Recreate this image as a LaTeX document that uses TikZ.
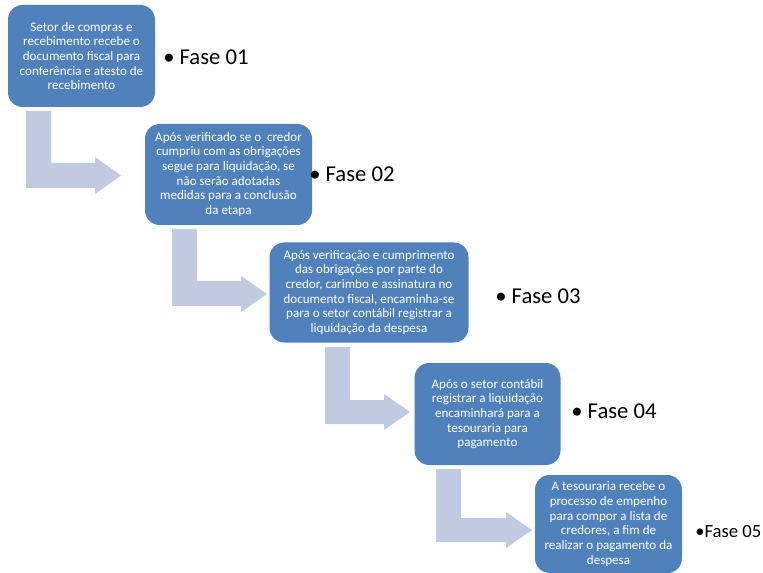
\documentclass[tikz,border=0pt]{standalone}
\usepackage{fontspec}
\setmainfont{Carlito}
\definecolor{caixa}{RGB}{79,129,189}
\definecolor{seta}{RGB}{192,203,226}
\begin{document}
\begin{tikzpicture}[x=0.75pt,y=-0.75pt,
  caixa/.style={fill=caixa,rounded corners=11pt,text=white,align=center,inner sep=0pt,
    font=\fontsize{9.8}{11}\selectfont},
  fase/.style={anchor=west,inner sep=0pt,font=\fontsize{17}{20}\selectfont}]
\useasboundingbox (0,0) rectangle (763,573);
% setas
\fill[seta] (26,111) -- (51,111) -- (51,163) -- (95,163) -- (95,157) -- (121,175.5) -- (95,194) -- (95,188) -- (26,188) -- cycle;
\fill[seta] (172,229) -- (197,229) -- (197,281) -- (241,281) -- (241,276) -- (267,294) -- (241,312) -- (241,306) -- (172,306) -- cycle;
\fill[seta] (325,347) -- (350,347) -- (350,400) -- (384,400) -- (384,394) -- (410,412) -- (384,430) -- (384,424) -- (325,424) -- cycle;
\fill[seta] (436,469) -- (461,469) -- (461,518) -- (506,518) -- (506,512) -- (532,530) -- (506,548) -- (506,542) -- (436,542) -- cycle;
% caixas
\node[caixa,minimum width=110.25pt,minimum height=76.5pt] (f1) at (81.5,56) {Setor de compras e\\recebimento recebe o\\documento fiscal para\\conferência e atesto de\\recebimento};
\node[caixa,minimum width=125.25pt,minimum height=75.75pt] (f2) at (228.5,174.5) {Após verificado se o\ \ credor\\cumpriu com as obrigações\\segue para liquidação, se\\não serão adotadas\\medidas para a conclusão\\da etapa};
\node[caixa,minimum width=149.25pt,minimum height=75pt] (f3) at (369,292.5) {Após verificação e cumprimento\\das obrigações por parte do\\credor, carimbo e assinatura no\\documento fiscal, encaminha-se\\para o setor contábil registrar a\\liquidação da despesa};
\node[caixa,minimum width=109.5pt,minimum height=76.5pt] (f4) at (487.5,414) {Após o setor contábil\\registrar a liquidação\\encaminhará para a\\tesouraria para\\pagamento};
\node[caixa,minimum width=110.25pt,minimum height=73.5pt] (f5) at (608.5,524) {A tesouraria recebe o\\processo de empenho\\para compor a lista de\\credores, a fim de\\realizar o pagamento da\\despesa};
% fases
\node[fase] (l1) at (163,57) {• Fase 01};
\node[fase] (l2) at (309,174) {• Fase 02};
\node[fase] (l3) at (495,296) {• Fase 03};
\node[fase] (l4) at (571,411) {• Fase 04};
\node[fase,font=\fontsize{14}{17}\selectfont] (l5) at (695,532) {•Fase 05};
\end{tikzpicture}
\end{document}
